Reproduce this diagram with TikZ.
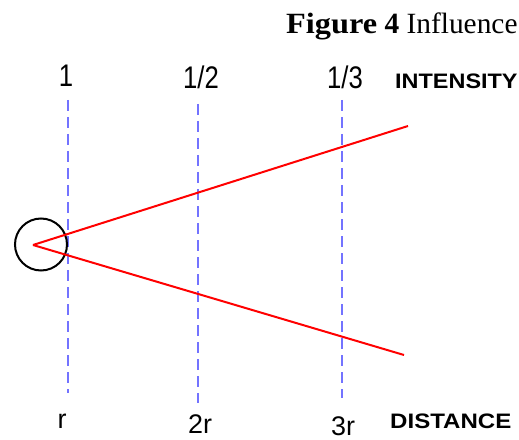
\documentclass[tikz,border=0pt]{standalone}
\usepackage{fontspec}
\setmainfont{Liberation Serif}
\newfontfamily\arialfont{Liberation Sans}
\definecolor{guideblue}{RGB}{115,115,255}
\begin{document}
\begin{tikzpicture}[x=1bp,y=-1bp,
  guide/.style={draw=guideblue,line width=1.3bp,dash pattern=on 11bp off 6bp},
  ray/.style={draw=red,line width=2bp},
  toplbl/.style={font=\arialfont\fontsize{28}{28}\selectfont,anchor=base,inner sep=0pt},
  botlbl/.style={font=\arialfont\fontsize{27}{27}\selectfont,anchor=base,inner sep=0pt},
  axislbl/.style={font=\arialfont\bfseries\fontsize{21}{21}\selectfont,anchor=base west,inner sep=0pt}]
\clip (0,0) rectangle (519,440);
\useasboundingbox (0,0) rectangle (519,440);
\node[anchor=base west,inner sep=0pt,font=\fontsize{29.5}{29.5}\selectfont] (title) at (286,34) {\scalebox{1.1}[1]{\textbf{Figure}}~\textbf{4} Influence};
% top labels
\node[toplbl] (i1) at (66,87) {\scalebox{0.92}[1.12]{1}};
\node[toplbl] (i2) at (201,89) {\scalebox{0.92}[1.12]{1/2}};
\node[toplbl] (i3) at (345,89) {\scalebox{0.92}[1.12]{1/3}};
\node[axislbl] (int) at (395,89) {\scalebox{1.12}[1]{INTENSITY}};
% bottom labels
\node[botlbl] (d1) at (62,428) {r};
\node[botlbl] (d2) at (200,433) {2r};
\node[botlbl] (d3) at (343,435) {3r};
\node[axislbl] (dist) at (390,428) {\scalebox{1.15}[1]{DISTANCE}};
% guides
\coordinate (g1t) at (68,100); \coordinate (g1b) at (68,393);
\coordinate (g2t) at (198,104); \coordinate (g2b) at (198,403);
\coordinate (g3t) at (342,100); \coordinate (g3b) at (342,398);
\draw[guide] (g1t) -- (g1b);
\draw[guide] (g2t) -- (g2b);
\draw[guide] (g3t) -- (g3b);
% source
\node[draw=black,line width=2bp,circle,minimum size=52bp,inner sep=0pt] (src) at (41,244.5) {};
\coordinate (o) at (33,245);
\coordinate (up) at (408,126);
\coordinate (lo) at (404,355);
\draw[ray] (o) -- (up);
\draw[ray] (o) -- (lo);
\end{tikzpicture}
\end{document}
